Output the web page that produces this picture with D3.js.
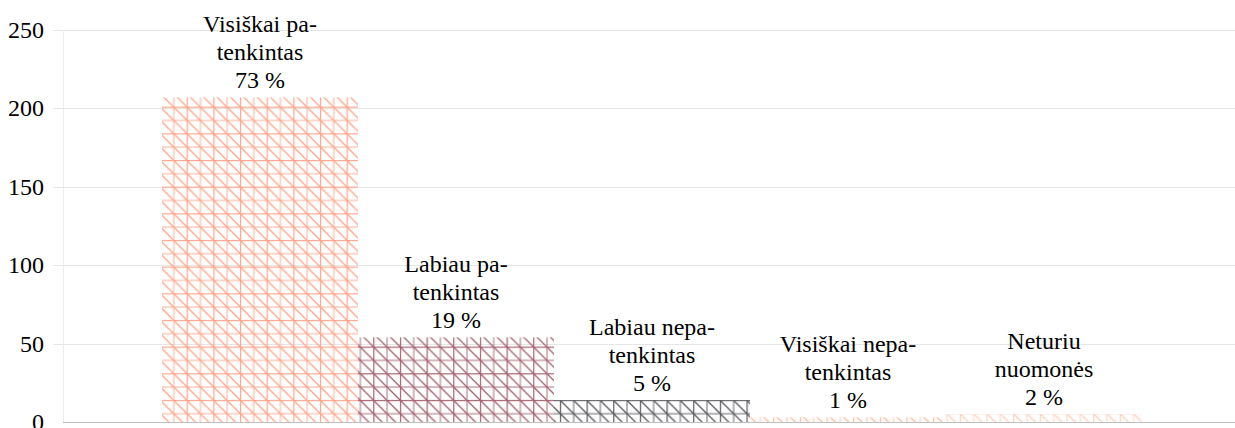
<!DOCTYPE html>
<html>
<head>
<meta charset="utf-8">
<script src="https://cdn.jsdelivr.net/npm/d3@7"></script>
<style>
  body { margin: 0; background: #fff; }
</style>
</head>
<body>
<div id="graph"></div>
<script>
var labels = [
  ['Visiškai pa-', 'tenkintas'],
  ['Labiau pa-', 'tenkintas'],
  ['Labiau nepa-', 'tenkintas'],
  ['Visiškai nepa-', 'tenkintas'],
  ['Neturiu', 'nuomonės']
]
var values = [207, 54, 14, 3, 5]
var percents = ['73 %', '19 %', '5 %', '1 %', '2 %']
var colors = ['#ffa68d', '#a4636f', '#5a5a60', '#ffb99c', '#ffcfbd']
var yTicks = [0, 50, 100, 150, 200, 250]

var width = 1235, height = 428
var svg = d3.select('#graph').append('svg')
  .attr('width', width).attr('height', height)

var x = d3.scaleBand().domain(d3.range(values.length)).range([64, 1240]).paddingInner(0).paddingOuter(0.5)
var y = d3.scaleLinear().domain([0, 250]).range([422, 30])

// hatch patterns
var s = 13.33
var defs = svg.append('defs')
colors.forEach((c, i) => {
  var p = defs.append('pattern')
    .attr('id', 'hatch' + i)
    .attr('patternUnits', 'userSpaceOnUse')
    .attr('width', s * 2).attr('height', s * 2)
  ;[[0, 1], [s, 0.65]].forEach(([o, op]) => {
    p.append('line').attr('x1', 0).attr('x2', s * 2).attr('y1', o + 0.5).attr('y2', o + 0.5)
      .attr('stroke', c).attr('stroke-width', 1.4).attr('opacity', op)
    p.append('line').attr('y1', 0).attr('y2', s * 2).attr('x1', o + 0.5).attr('x2', o + 0.5)
      .attr('stroke', c).attr('stroke-width', 1.4).attr('opacity', op)
  })
  ;[-s * 2, -s, 0, s, s * 2].forEach(o => {
    p.append('line').attr('x1', o).attr('y1', 0).attr('x2', o + s * 2).attr('y2', s * 2)
      .attr('stroke', c).attr('stroke-width', 1.3)
  })
})

// grid
svg.append('g').selectAll('line').data(yTicks.filter(d => d > 0)).join('line')
  .attr('x1', 53).attr('x2', width)
  .attr('y1', d => Math.round(y(d)) + 0.5).attr('y2', d => Math.round(y(d)) + 0.5)
  .attr('stroke', '#e6e6e6')

svg.append('line')
  .attr('x1', 63.5).attr('x2', 63.5).attr('y1', y(250)).attr('y2', y(0))
  .attr('stroke', '#ededed')

svg.append('g').selectAll('text').data(yTicks).join('text')
  .attr('x', 44).attr('y', d => y(d)).attr('dy', '0.33em')
  .attr('text-anchor', 'end').attr('font-size', 24)
  .style('font-family', 'Liberation Serif')
  .text(d => d)

// bars
svg.append('g').selectAll('rect').data(values).join('rect')
  .attr('x', (d, i) => x(i)).attr('width', x.bandwidth())
  .attr('y', d => y(d)).attr('height', d => y(0) - y(d))
  .attr('fill', (d, i) => 'url(#hatch' + i + ')')

svg.append('line')
  .attr('x1', 63).attr('x2', width).attr('y1', 422.5).attr('y2', 422.5)
  .attr('stroke', '#bfbfbf')

// labels
var lab = svg.append('g').selectAll('text').data(values).join('text')
  .attr('text-anchor', 'middle').attr('font-size', 24)
  .style('font-family', 'Liberation Serif')
  .attr('transform', (d, i) => `translate(${x(i) + x.bandwidth() / 2},${y(d) - 9})`)
lab.each(function(d, i) {
  var lines = labels[i].concat(percents[i])
  d3.select(this).selectAll('tspan').data(lines).join('tspan')
    .attr('x', 0).attr('y', (t, j) => (j - lines.length + 1) * 28)
    .text(t => t)
})
</script>
</body>
</html>
